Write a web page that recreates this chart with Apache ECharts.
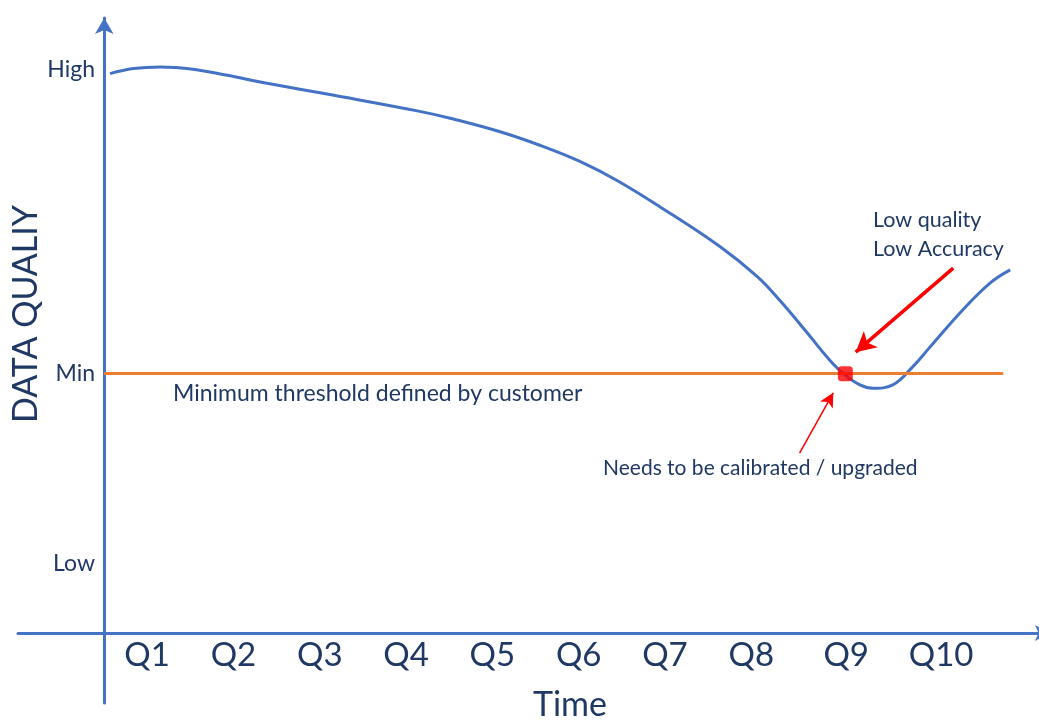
<!DOCTYPE html>
<html><head><meta charset="utf-8">
<script src="https://cdn.jsdelivr.net/npm/echarts@6/dist/echarts.min.js"></script>
<style>html,body{margin:0;padding:0;background:#fff}#c{width:1039px;height:721px}</style>
</head><body><div id="c"></div>
<script>
// Tick labels and positions (time in quarters from origin, quality 0..100 where High=100)
const quarterLabels = ['Q1','Q2','Q3','Q4','Q5','Q6','Q7','Q8','Q9','Q10'];
const quarterPositions = [0.5,1.5,2.5,3.5,4.5,5.5,6.5,7.5,8.6,9.7];
const levelLabels = ['Low','Min','High'];
const levelValues = [12.4, 46, 100];

// Data quality curve
const curveTime    = [0.07, 0.34, 0.65, 1.03, 1.43, 1.89, 2.65, 3.63, 4.01, 4.59, 5.05, 5.52, 5.94, 6.44, 7.14, 7.57, 7.83, 8.15, 8.38, 8.56, 8.76, 8.91, 9.14, 9.37, 9.57, 9.95, 10.27, 10.50];
const curveQuality = [99.2, 100.1, 100.4, 100.0, 98.9, 97.5, 95.4, 92.6, 91.3, 88.9, 86.5, 83.6, 80.3, 75.6, 68.5, 63.2, 59.0, 53.2, 48.9, 46.1, 44.0, 43.4, 44.0, 47.2, 50.7, 57.3, 62.1, 64.4];

// Threshold and annotations
const thresholdValue = 46;
const thresholdRange = [0, 10.42];
const alertPoint = [8.59, 46];
const arrowLarge = [[9.84, 64.7], [8.71, 49.8]];
const arrowSmall = [[8.06, 31.9], [8.45, 42.6]];

const navy = '#1F3864';
const blue = '#4472C4';
const font = 'Lato';

function nearestLabel(values, labels, v) {
  let best = 0;
  values.forEach(function (p, i) { if (Math.abs(p - v) < Math.abs(values[best] - v)) best = i; });
  return labels[best];
}

const chart = echarts.init(document.getElementById('c'));
chart.setOption({
  animation: false,
  backgroundColor: '#fff',
  grid: [
    { left: 104, right: -10, top: 18, bottom: 88, outerBoundsMode: 'none', containLabel: false },
    { left: 18, right: -10, top: 18, bottom: 18, outerBoundsMode: 'none', containLabel: false }
  ],
  xAxis: [
    {
      gridIndex: 0, type: 'value', min: 0, max: 10.95,
      axisLine: { show: false }, axisTick: { show: false }, splitLine: { show: false },
      axisLabel: {
        customValues: quarterPositions,
        formatter: function (v) { return nearestLabel(quarterPositions, quarterLabels, v); },
        color: navy, fontFamily: font, fontSize: 33, margin: 6
      }
    },
    {
      gridIndex: 1, type: 'value', min: -1, max: 10.95,
      axisLine: { onZero: true, symbol: ['none', 'arrow'], symbolSize: [12, 14], lineStyle: { color: blue, width: 3 } },
      axisTick: { show: false }, splitLine: { show: false }, axisLabel: { show: false }
    }
  ],
  yAxis: [
    {
      gridIndex: 0, type: 'value', min: 0, max: 109.07,
      axisLine: { show: false }, axisTick: { show: false }, splitLine: { show: false },
      axisLabel: {
        customValues: levelValues,
        formatter: function (v) { return nearestLabel(levelValues, levelLabels, v); },
        color: navy, fontFamily: font, fontSize: 23, margin: 9
      }
    },
    {
      gridIndex: 1, type: 'value', min: -12.4, max: 109.07,
      axisLine: { onZero: true, symbol: ['none', 'arrow'], symbolSize: [14, 16], lineStyle: { color: blue, width: 3 } },
      axisTick: { show: false }, splitLine: { show: false }, axisLabel: { show: false }
    }
  ],
  series: [
    {
      type: 'line', xAxisIndex: 0, yAxisIndex: 0,
      data: curveTime.map(function (t, i) { return [t, curveQuality[i]]; }),
      smooth: 0.4,
      showSymbol: false,
      lineStyle: { color: blue, width: 3 },
      z: 3,
      markLine: {
        silent: true, symbol: ['none', 'none'], animation: false,
        label: { show: false },
        lineStyle: { color: '#ED7D31', width: 3, type: 'solid' },
        data: [[{ coord: [thresholdRange[0], thresholdValue] }, { coord: [thresholdRange[1], thresholdValue] }]]
      }
    },
    {
      type: 'scatter', xAxisIndex: 0, yAxisIndex: 0,
      data: [alertPoint],
      symbol: 'roundRect',
      symbolSize: 15,
      itemStyle: { color: '#FF0000' },
      z: 5,
      markLine: {
        silent: true, animation: false,
        label: { show: false },
        lineStyle: { color: '#FF0000', type: 'solid' },
        data: [
          [{ coord: arrowLarge[0], symbol: 'none' }, { coord: arrowLarge[1], symbol: 'arrow', symbolSize: [16, 20], lineStyle: { width: 3.5, color: '#FF0000' } }],
          [{ coord: arrowSmall[0], symbol: 'none' }, { coord: arrowSmall[1], symbol: 'arrow', symbolSize: [11, 14], lineStyle: { width: 1.5, color: '#FF0000' } }]
        ]
      }
    }
  ],
  graphic: [
    { type: 'text', x: 26, y: 314, rotation: Math.PI / 2, style: { text: 'DATA QUALIY', fill: navy, font: '34px Lato', align: 'center', verticalAlign: 'middle' } },
    { type: 'text', x: 570, y: 705, style: { text: 'Time', fill: navy, font: '34px Lato', align: 'center', verticalAlign: 'middle' } },
    { type: 'text', x: 173, y: 394, style: { text: 'Minimum threshold defined by customer', fill: navy, font: '23px Lato', align: 'left', verticalAlign: 'middle' } },
    { type: 'text', x: 873, y: 220, style: { text: 'Low quality', fill: navy, font: '21.5px Lato', align: 'left', verticalAlign: 'middle' } },
    { type: 'text', x: 873, y: 249, style: { text: 'Low Accuracy', fill: navy, font: '21.5px Lato', align: 'left', verticalAlign: 'middle' } },
    { type: 'text', x: 603, y: 468, style: { text: 'Needs to be calibrated / upgraded', fill: navy, font: '21px Lato', align: 'left', verticalAlign: 'middle' } }
  ]
});
</script>
</body></html>
